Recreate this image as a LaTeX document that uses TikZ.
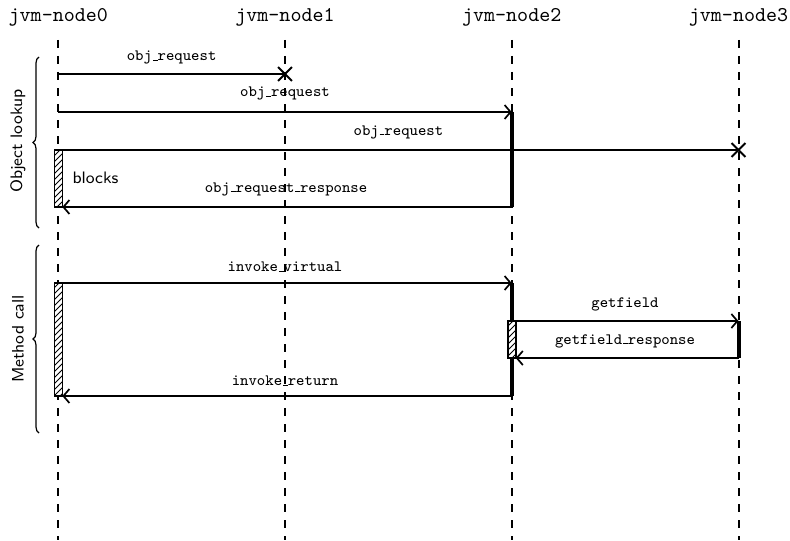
\documentclass[tikz,border=0pt]{standalone}
\usetikzlibrary{arrows.meta,patterns,decorations.pathreplacing,shapes.misc}
\newcommand\usc{\leavevmode\kern.06em\vbox{\hrule width.3em}}
\begin{document}
\begin{tikzpicture}[x=0.5pt,y=-0.5pt,
  head/.style={font=\fontsize{10.5}{12}\selectfont\ttfamily, anchor=base, inner sep=0pt},
  lbl/.style={font=\fontsize{7.9}{9}\selectfont\ttfamily, anchor=base, inner sep=0pt},
  sflbl/.style={font=\fontsize{8.3}{10}\selectfont\sffamily, inner sep=0pt},
  life/.style={line width=1pt, dash pattern=on 4pt off 4pt},
  msg/.style={line width=0.85pt, -{Straight Barb[length=3pt,width=7pt]}},
  lost/.style={line width=0.85pt},
  xmark/.style={cross out, draw, line width=0.9pt, minimum size=6pt, inner sep=0pt},
  bar/.style={line width=2pt},
  blockbox/.style={draw, line width=0.8pt, fill=white, postaction={pattern=north east lines}},
  grp/.style={decorate, decoration={brace, amplitude=3pt}, line width=0.6pt}
]
\useasboundingbox (0,0) rectangle (790,540);

% headers
\node[head] (h0) at (58.3,21.5) {jvm-node0};
\node[head] (h1) at (285,21.5) {jvm-node1};
\node[head] (h2) at (511.7,21.5) {jvm-node2};
\node[head] (h3) at (738.5,21.5) {jvm-node3};

% lifelines
\foreach \i/\x in {0/58.3,1/285,2/511.7,3/738.5}{
  \coordinate (t\i) at (\x,40);
  \coordinate (b\i) at (\x,540);
  \draw[life] (t\i) -- (b\i);
}

% activation bars
\coordinate (a2s) at (511.7,112);
\coordinate (a2e) at (511.7,207);
\draw[bar] (a2s) -- (a2e);
\coordinate (c2s) at (511.7,283);
\coordinate (c2e) at (511.7,396);
\draw[bar] (c2s) -- (c2e);
\coordinate (c3s) at (738.5,321);
\coordinate (c3e) at (738.5,358);
\draw[bar] (c3s) -- (c3e);

% blocked boxes
\coordinate (k1a) at (54.3,150);
\coordinate (k1b) at (62.3,207);
\draw[blockbox] (k1a) rectangle (k1b);
\coordinate (k2a) at (54.3,283);
\coordinate (k2b) at (62.3,396);
\draw[blockbox] (k2a) rectangle (k2b);
\coordinate (k3a) at (507.7,321);
\coordinate (k3b) at (515.7,358);
\draw[blockbox] (k3a) rectangle (k3b);

% Object lookup
\coordinate (m1s) at (58.3,74);
\node[xmark] (x1) at (285,74) {};
\draw[lost] (m1s) -- (x1.center);
\node[lbl] (l1) at (171.6,61) {obj\usc request};

\coordinate (m2s) at (58.3,112);
\coordinate (m2e) at (511.7,112);
\draw[msg] (m2s) -- (m2e);
\node[lbl] (l2) at (285,97) {obj\usc request};

\coordinate (m3s) at (58.3,150);
\node[xmark] (x3) at (738.5,150) {};
\draw[lost] (m3s) -- (x3.center);
\node[lbl] (l3) at (398.4,135) {obj\usc request};

\node[sflbl, anchor=base] (blk) at (95.5,183) {blocks};

\coordinate (r1s) at (511.7,207);
\coordinate (r1e) at (62.3,207);
\draw[msg] (r1s) -- (r1e);
\node[lbl] (l4) at (286,192) {obj\usc request\usc response};

% Method call
\coordinate (v1s) at (58.3,283);
\coordinate (v1e) at (511.7,283);
\draw[msg] (v1s) -- (v1e);
\node[lbl] (l5) at (285,271.5) {invoke\usc virtual};

\coordinate (g1s) at (515.7,321);
\coordinate (g1e) at (738.5,321);
\draw[msg] (g1s) -- (g1e);
\node[lbl] (l6) at (625,307) {getfield};

\coordinate (g2s) at (738.5,358);
\coordinate (g2e) at (515.7,358);
\draw[msg] (g2s) -- (g2e);
\node[lbl] (l7) at (625,344) {getfield\usc response};

\coordinate (v2s) at (511.7,396);
\coordinate (v2e) at (62.3,396);
\draw[msg] (v2s) -- (v2e);
\node[lbl] (l8) at (285,385.5) {invoke\usc return};

% group braces
\coordinate (gb1s) at (39,228);
\coordinate (gb1e) at (39,57);
\draw[grp] (gb1s) -- (gb1e);
\node[sflbl, rotate=90] (gl1) at (18,141) {Object lookup};

\coordinate (gb2s) at (39,433);
\coordinate (gb2e) at (39,245);
\draw[grp] (gb2s) -- (gb2e);
\node[sflbl, rotate=90] (gl2) at (18,339) {Method call};
\end{tikzpicture}
\end{document}
